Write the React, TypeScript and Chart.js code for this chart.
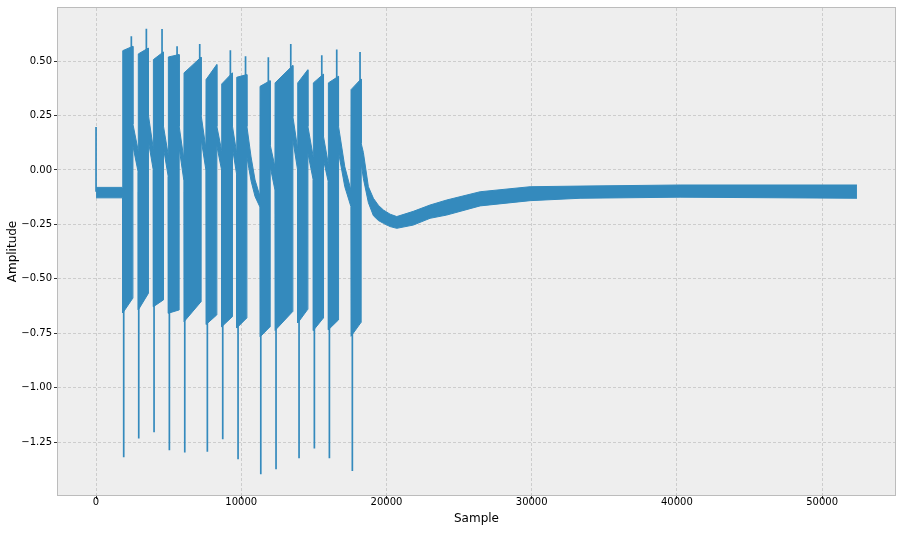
import React, { useEffect, useRef } from "react";
import { Chart, registerables } from "chart.js";

Chart.register(...registerables);

// Envelope of the dense waveform (sample index, upper edge, lower edge)
const envSample = [
  0, 1830, 1840, 2530, 2540, 2900, 2910, 3600, 3610, 3940, 3950, 4635, 4645, 4970,
  4980, 5715, 5725, 6050, 6060, 7230, 7240, 7565, 7575, 8310, 8320, 8645, 8655, 9385,
  9395, 9680, 9690, 10380, 10390, 10675, 10950, 11285, 11295, 11985, 11995, 12320,
  12330, 13545, 13555, 13880, 13890, 14580, 14590, 14955, 14965, 15655, 15665, 15990,
  16000, 16690, 16700, 17130, 17550, 17560, 18250, 18260, 18410, 18755, 19100, 19440,
  19790, 20250, 20710, 21850, 23000, 24150, 26450, 29890, 33330, 40220, 52400,
];
const envUpper = [
  -0.08, -0.08, 0.548, 0.568, 0.21, 0.09, 0.533, 0.56, 0.25, 0.1, 0.507, 0.542, 0.2, 0.07,
  0.519, 0.53, 0.2, 0.05, 0.446, 0.518, 0.25, 0.1, 0.415, 0.484, 0.2, 0.09, 0.395, 0.446,
  0.2, 0.08, 0.426, 0.438, 0.2, 0.06, -0.046, -0.12, 0.384, 0.41, 0.115, 0.015,
  0.4, 0.48, 0.245, 0.1, 0.4, 0.46, 0.2, 0.061, 0.4, 0.44, 0.153, 0.03,
  0.4, 0.43, 0.2, 0.015, -0.092, 0.369, 0.418, 0.122, 0.08, -0.077, -0.13, -0.162,
  -0.184, -0.203, -0.214, -0.19, -0.161, -0.138, -0.1, -0.077, -0.074, -0.069, -0.069,
];
const envLower = [
  -0.128, -0.128, -0.657, -0.589, 0.11, -0.01, -0.643, -0.567, 0.13, 0.0, -0.628, -0.597, 0.1, -0.03,
  -0.658, -0.643, 0.1, -0.05, -0.697, -0.605, 0.14, 0.0, -0.71, -0.666, 0.11, 0.0, -0.72, -0.674,
  0.1, -0.02, -0.726, -0.68, 0.06, -0.05, -0.122, -0.17, -0.767, -0.72, 0.015, -0.092,
  -0.737, -0.65, 0.138, 0.0, -0.703, -0.64, 0.077, -0.046, -0.737, -0.68, 0.046, -0.054,
  -0.734, -0.689, 0.08, -0.077, -0.168, -0.764, -0.7, 0.03, -0.04, -0.15, -0.21, -0.232,
  -0.245, -0.26, -0.268, -0.253, -0.222, -0.207, -0.165, -0.141, -0.13, -0.125, -0.13,
];

// Narrow spikes
const spikeBase = -0.1;
const upSpikeSample = [0, 2430, 3465, 4545, 5580, 7140, 9250, 10295, 11865, 13410, 15545, 16575, 18180];
const upSpikeValue = [0.197, 0.614, 0.649, 0.648, 0.568, 0.579, 0.55, 0.522, 0.518, 0.579, 0.527, 0.553, 0.542];
const downSpikeSample = [1905, 2940, 3995, 5050, 6110, 7665, 8725, 9780, 11345, 12395, 13980, 15035, 16070, 17650];
const downSpikeValue = [-1.32, -1.233, -1.205, -1.288, -1.298, -1.294, -1.237, -1.329, -1.398, -1.375, -1.324, -1.279, -1.324, -1.383];

const xTicks = [0, 10000, 20000, 30000, 40000, 50000];
const yTicks = [-1.25, -1.0, -0.75, -0.5, -0.25, 0.0, 0.25, 0.5];

const LINE = "#348ABD";
const FONT = "DejaVu Sans";

function spikeData(xs: number[], ys: number[]) {
  const out: { x: number; y: number | null }[] = [];
  xs.forEach((x, i) => {
    out.push({ x, y: spikeBase });
    out.push({ x, y: ys[i] });
    out.push({ x, y: null });
  });
  return out;
}

const bgPlugin = {
  id: "bmhBackground",
  beforeDraw(chart: any) {
    const { ctx, chartArea: a } = chart;
    ctx.save();
    ctx.fillStyle = "#ffffff";
    ctx.fillRect(0, 0, chart.width, chart.height);
    ctx.fillStyle = "#eeeeee";
    ctx.fillRect(a.left, a.top, a.right - a.left, a.bottom - a.top);
    ctx.restore();
  },
  afterDraw(chart: any) {
    const { ctx, chartArea: a } = chart;
    ctx.save();
    ctx.strokeStyle = "#bcbcbc";
    ctx.lineWidth = 1;
    ctx.strokeRect(a.left - 0.5, a.top - 0.5, a.right - a.left + 1, a.bottom - a.top + 1);
    ctx.restore();
  },
};

export default function App() {
  const ref = useRef<HTMLCanvasElement | null>(null);

  useEffect(() => {
    if (!ref.current) return;
    const upper = envSample.map((x, i) => ({ x, y: envUpper[i] }));
    const lower = envSample.map((x, i) => ({ x, y: envLower[i] }));
    const chart = new Chart(ref.current, {
      type: "line",
      data: {
        datasets: [
          {
            data: upper,
            borderColor: LINE,
            backgroundColor: LINE,
            borderWidth: 1,
            pointRadius: 0,
            fill: "+1",
            tension: 0,
          },
          {
            data: lower,
            borderColor: LINE,
            backgroundColor: LINE,
            borderWidth: 1,
            pointRadius: 0,
            fill: false,
            tension: 0,
          },
          {
            data: spikeData(upSpikeSample, upSpikeValue),
            borderColor: LINE,
            borderWidth: 1.7,
            pointRadius: 0,
            fill: false,
            spanGaps: false,
          },
          {
            data: spikeData(downSpikeSample, downSpikeValue),
            borderColor: LINE,
            borderWidth: 1.7,
            pointRadius: 0,
            fill: false,
            spanGaps: false,
          },
        ] as any,
      },
      options: {
        animation: false,
        responsive: false,
        events: [],
        layout: { padding: { left: 0, top: 8, right: 7, bottom: 0 } },
        plugins: { legend: { display: false }, tooltip: { enabled: false } },
        scales: {
          x: {
            type: "linear",
            min: -2620,
            max: 55020,
            afterFit: (s: any) => {
              s.height = 39;
            },
            afterBuildTicks: (s: any) => {
              s.ticks = xTicks.map((v) => ({ value: v }));
            },
            ticks: {
              callback: (v: any) => String(v),
              font: { family: FONT, size: 10 },
              color: "#000",
              padding: -3,
              maxRotation: 0,
              autoSkip: false,
            },
            grid: {
              color: "#cdcdcd",
              lineWidth: 1,
              drawTicks: true,
              tickLength: 4,
              tickColor: "#333",
              tickWidth: 1,
            },
            border: { display: false, dash: [3, 2] },
            title: {
              display: true,
              text: "Sample",
              font: { family: FONT, size: 12 },
              color: "#000",
              padding: { top: 0, bottom: 8 },
            },
          },
          y: {
            type: "linear",
            min: -1.493,
            max: 0.744,
            afterFit: (s: any) => {
              s.width = 58;
            },
            afterBuildTicks: (s: any) => {
              s.ticks = yTicks.map((v) => ({ value: v }));
            },
            ticks: {
              callback: (v: any) => {
                const n = Number(v);
                return (n < 0 ? "\u2212" : "") + Math.abs(n).toFixed(2);
              },
              font: { family: FONT, size: 10 },
              color: "#000",
              padding: 2,
              autoSkip: false,
            },
            grid: {
              color: "#cdcdcd",
              lineWidth: 1,
              drawTicks: true,
              tickLength: 4,
              tickColor: "#333",
              tickWidth: 1,
            },
            border: { display: false, dash: [3, 2] },
            title: {
              display: true,
              text: "Amplitude",
              font: { family: FONT, size: 12 },
              color: "#000",
              padding: { top: 6, bottom: 0 },
            },
          },
        },
      } as any,
      plugins: [bgPlugin],
    });
    return () => chart.destroy();
  }, []);

  return (
    <div style={{ position: "fixed", left: 0, top: 0, width: 902, height: 534, background: "#fff" }}>
      <canvas ref={ref} width={902} height={534} style={{ display: "block", width: 902, height: 534 }} />
    </div>
  );
}
